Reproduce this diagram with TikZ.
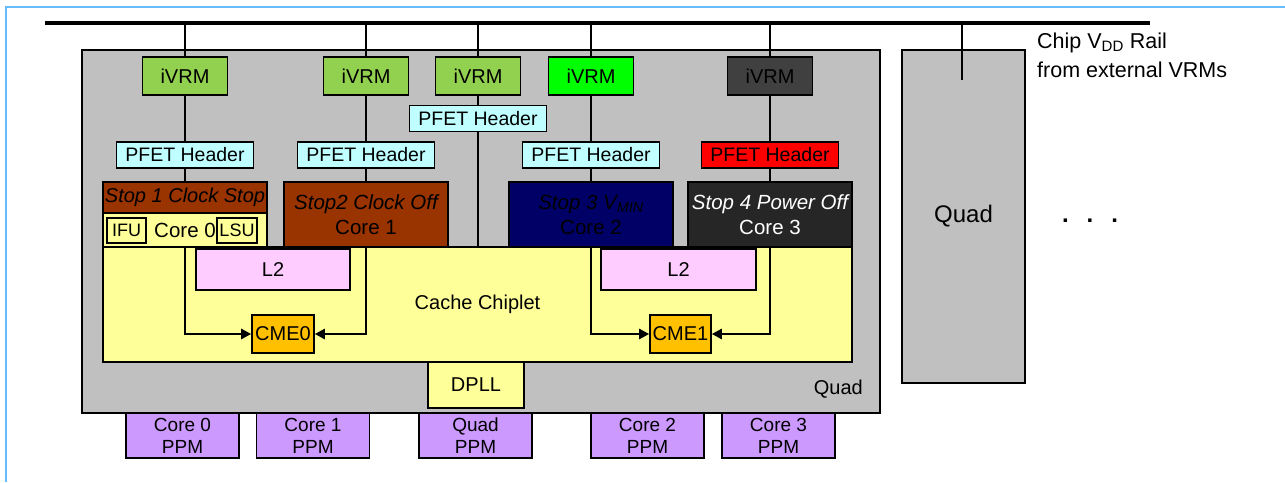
\documentclass[tikz,border=0pt]{standalone}
\usepackage{fontspec}
\setmainfont{Liberation Sans}
\usetikzlibrary{arrows.meta,positioning}
\definecolor{frameblue}{HTML}{66BBFF}
\definecolor{quadgray}{HTML}{C0C0C0}
\definecolor{vrmgreen}{HTML}{92D050}
\definecolor{vrmbright}{HTML}{00FF00}
\definecolor{vrmdark}{HTML}{404040}
\definecolor{pfetcyan}{HTML}{BFFFFF}
\definecolor{pfetred}{HTML}{FF0000}
\definecolor{stopbrown}{HTML}{993300}
\definecolor{corenavy}{HTML}{000066}
\definecolor{coredark}{HTML}{262626}
\definecolor{chipyellow}{HTML}{FFFF99}
\definecolor{l2pink}{HTML}{FFCCFF}
\definecolor{cmeorange}{HTML}{FFC000}
\definecolor{ppmviolet}{HTML}{CC99FF}

\begin{document}
\begin{tikzpicture}[x=1pt, y=-1pt, font=\fontsize{20}{25}\selectfont,
    blk/.style={draw, line width=1.6pt, inner sep=0pt, align=center},
    vrm/.style={blk, minimum width=85pt, minimum height=38pt},
    pfet/.style={blk, fill=pfetcyan, minimum width=137pt, minimum height=26pt, font=\fontsize{19.5}{22}\selectfont},
    corebox/.style={blk, minimum width=164pt, minimum height=65pt, font=\fontsize{20.5}{25}\selectfont},
    unit/.style={blk, fill=chipyellow, minimum width=39pt, minimum height=25pt, font=\fontsize{18}{20}\selectfont},
    ppm/.style={blk, fill=ppmviolet, minimum width=113pt, minimum height=45pt, font=\fontsize{19}{22}\selectfont},
    wire/.style={line width=1.2pt},
    feed/.style={line width=2.4pt, -{Triangle[length=10pt,width=10pt]}}]
    \useasboundingbox (0,0) rectangle (1285,482);
    \draw[frameblue, line width=2pt] (6,482) -- (6,7) -- (1285,7);

    % quads
    \node[blk, fill=quadgray, minimum width=798pt, minimum height=363pt] (quad0) at (481,231.5) {};
    \node[blk, fill=quadgray, minimum width=123pt, minimum height=333pt, font=\fontsize{24}{28}\selectfont] (quad1) at (963.5,216.5) {Quad};
    \node[anchor=base east, inner sep=0pt] (quad0lbl) at (863,394) {Quad};
    \node[anchor=base, inner sep=0pt, font=\bfseries\fontsize{24}{28}\selectfont] (more) at (1090,222) {.\hspace{18pt}.\hspace{18pt}.};

    % rail
    \coordinate (railL) at (45,23);
    \coordinate (railR) at (1150,23);
    \draw[line width=4pt] (railL) -- (railR);
    \coordinate (tap) at (962,80);
    \draw[wire] (tap) -- (tap |- railL);
    \node[anchor=north west, inner sep=0pt, align=left, font=\fontsize{21.5}{29}\selectfont] (raillbl) at (1037,33)
      {Chip V\textsubscript{DD} Rail\\from external VRMs};

    % regulators and headers
    \foreach \n/\x/\c in {c0/185/vrmgreen, c1/366/vrmgreen, q/478/vrmgreen, c2/591/vrmbright, c3/770/vrmdark} {
      \node[vrm, fill=\c] (vrm\n) at (\x,76) {iVRM};
      \draw[wire] (vrm\n.north) -- (vrm\n.north |- railL);
    }
    \foreach \n/\x in {c0/185, c1/366, c2/591}
      \node[pfet] (pfet\n) at (\x,155) {PFET Header};
    \node[pfet, fill=pfetred] (pfetc3) at (770,155) {PFET Header};
    \node[pfet] (pfetq) at (478,118.5) {PFET Header};

    % cache chiplet
    \node[blk, fill=chipyellow, minimum width=749pt, minimum height=115pt] (cache) at (477.5,304.5) {Cache Chiplet};
    \draw[wire] (vrmq) -- (pfetq);
    \draw[wire] (pfetq) -- (pfetq |- cache.north);
    \node[blk, fill=l2pink, minimum width=154pt, minimum height=41pt] (l2a) at (273,269.5) {L2};
    \node[blk, fill=l2pink, minimum width=155pt, minimum height=41pt] (l2b) at (678.5,269.5) {L2};
    \node[blk, fill=cmeorange, minimum width=62pt, minimum height=38pt] (cme0) at (283,334) {CME0};
    \node[blk, fill=cmeorange, minimum width=61pt, minimum height=38pt] (cme1) at (680.5,334) {CME1};

    % cores
    \node[blk, fill=stopbrown, minimum width=164pt, minimum height=31pt] (stop0) at (185,197.5) {\itshape Stop 1 Clock Stop};
    \node[blk, fill=chipyellow, minimum width=164pt, minimum height=34pt, font=\fontsize{20.5}{25}\selectfont] (core0) at (185,230) {Core 0};
    \node[unit] (ifu) at (126.5,230.5) {IFU};
    \node[unit, minimum width=40pt] (lsu) at (237,230.5) {LSU};
    \node[corebox, fill=stopbrown] (core1) at (366,214.5) {\itshape Stop2 Clock Off\\Core 1};
    \node[corebox, fill=corenavy] (core2) at (591,214.5) {\itshape Stop 3 V\textsubscript{MIN}\\Core 2};
    \node[corebox, fill=coredark, text=white] (core3) at (770,214.5) {\itshape Stop 4 Power Off\\Core 3};
    \draw[wire] (vrmc0) -- (pfetc0);
    \draw[wire] (pfetc0) -- (stop0);
    \foreach \n/\m in {c1/core1, c2/core2, c3/core3} {
      \draw[wire] (vrm\n) -- (pfet\n);
      \draw[wire] (pfet\n) -- (\m);
    }

    % stop signals to the CMEs
    \draw[feed] (core0.south) |- (cme0);
    \draw[feed] (core1.south) |- (cme0);
    \draw[feed] (core2.south) |- (cme1);
    \draw[feed] (core3.south) |- (cme1);

    \node[blk, fill=chipyellow, minimum width=96pt, minimum height=46pt] (dpll) at (476,385) {DPLL};

    % power management
    \foreach \n/\x/\t in {c0/182.5/Core 0, c1/313/Core 1, q/475.5/Quad, c2/647.5/Core 2, c3/778.5/Core 3}
      \node[ppm] (ppm\n) at (\x,435.5) {\t\\PPM};
  \end{tikzpicture}
\end{document}
